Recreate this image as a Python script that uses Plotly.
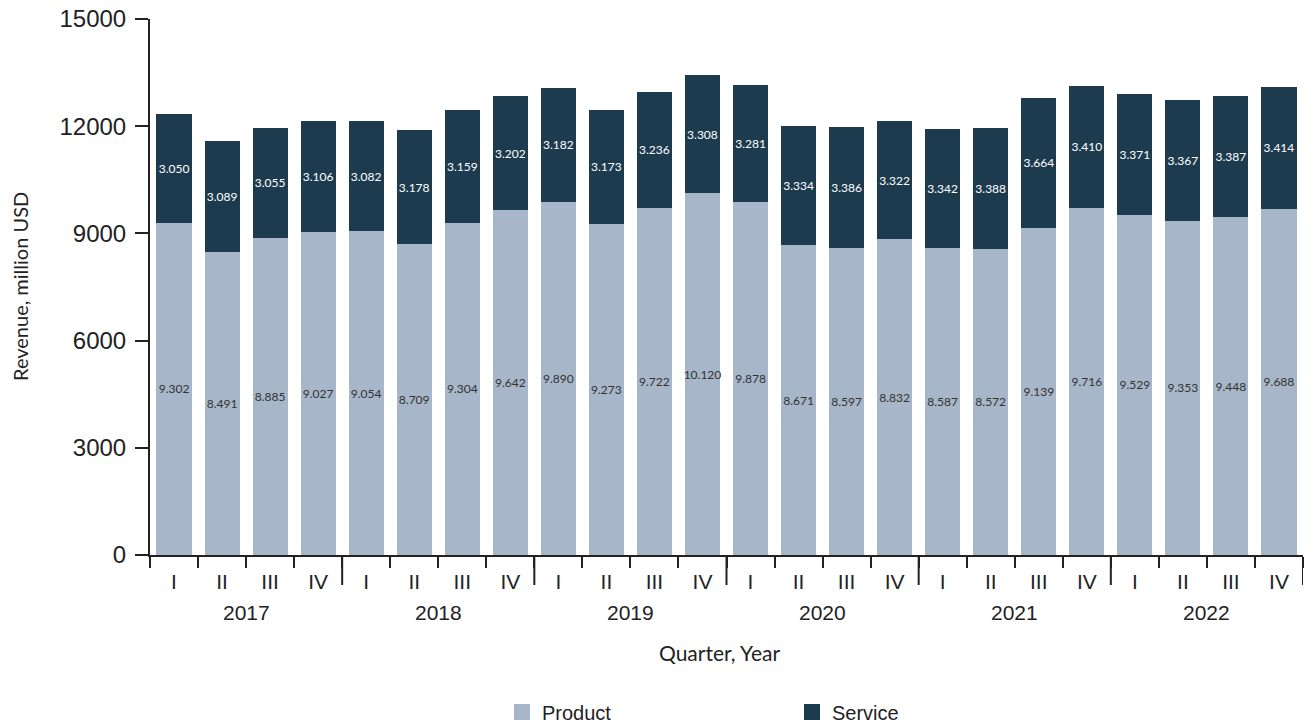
import plotly.graph_objects as go

years = ["2017", "2018", "2019", "2020", "2021", "2022"]
quarter_names = ["I", "II", "III", "IV"]
product = [9302, 8491, 8885, 9027, 9054, 8709, 9304, 9642, 9890, 9273, 9722, 10120,
           9878, 8671, 8597, 8832, 8587, 8572, 9139, 9716, 9529, 9353, 9448, 9688]
service = [3050, 3089, 3055, 3106, 3082, 3178, 3159, 3202, 3182, 3173, 3236, 3308,
           3281, 3334, 3386, 3322, 3342, 3388, 3664, 3410, 3371, 3367, 3387, 3414]
y_ticks = [0, 3000, 6000, 9000, 12000, 15000]

PRODUCT_COLOR = "#a7b6c8"
SERVICE_COLOR = "#1d3b4f"
AXIS_COLOR = "#222222"
TITLE_FONT = "Lato, Noto Sans, sans-serif"

n = len(product)
xs = list(range(n))
quarter_labels = [quarter_names[i % 4] for i in xs]

PLOT_H = 725 - 19 - 170  # plot area height in px


def fmt(v):
    return f"{v:,}".replace(",", ".")


def py(px_below):
    return -px_below / PLOT_H


fig = go.Figure()
fig.add_trace(go.Bar(
    x=xs, y=product, name="Product", showlegend=False,
    marker=dict(color=PRODUCT_COLOR, line=dict(width=0)),
    text=[fmt(v) for v in product], textposition="inside", insidetextanchor="middle",
    textfont=dict(family="Lato", size=12, color="#333333"), textangle=0,
))
fig.add_trace(go.Bar(
    x=xs, y=service, name="Service", showlegend=False,
    marker=dict(color=SERVICE_COLOR, line=dict(width=0)),
    text=[fmt(v) for v in service], textposition="inside", insidetextanchor="middle",
    textfont=dict(family="Lato", size=12, color="#ffffff"), textangle=0,
))
# legend proxies (bigger square swatches)
for name, col in [("Product", PRODUCT_COLOR), ("Service", SERVICE_COLOR)]:
    fig.add_trace(go.Scatter(
        x=[None], y=[None], mode="markers", name=name,
        marker=dict(symbol="square", size=20, color=col),
    ))

shapes = []
for k in range(1, len(years) + 1):
    xb = 4 * k - 0.5
    shapes.append(dict(type="line", xref="x", yref="paper", x0=xb, x1=xb,
                       y0=0, y1=py(30), line=dict(color=AXIS_COLOR, width=2)))

annotations = []
for k, yr in enumerate(years):
    annotations.append(dict(text=yr, xref="x", yref="paper", x=4 * k + 1.5, y=py(57),
                            showarrow=False, xanchor="center", yanchor="middle",
                            font=dict(size=21, color=AXIS_COLOR)))
annotations.append(dict(text="Quarter, Year", xref="paper", yref="paper", x=0.494, y=py(97),
                        showarrow=False, xanchor="center", yanchor="middle",
                        font=dict(family=TITLE_FONT, size=21, color=AXIS_COLOR)))
annotations.append(dict(text="Revenue, million USD", xref="paper", yref="paper",
                        x=-130 / 1153, y=0.5, textangle=-90,
                        showarrow=False, xanchor="center", yanchor="middle",
                        font=dict(family=TITLE_FONT, size=20, color=AXIS_COLOR)))

fig.update_layout(
    barmode="stack", bargap=0.27,
    width=1313, height=725,
    margin=dict(l=150, r=10, t=19, b=170, autoexpand=False),
    plot_bgcolor="white", paper_bgcolor="white",
    font=dict(family="Liberation Sans, Arial", color=AXIS_COLOR, size=20),
    uniformtext=dict(mode="show", minsize=12),
    legend=dict(orientation="h", x=352 / 1153, xanchor="left",
                yref="container", y=0.018, yanchor="middle",
                entrywidth=245, entrywidthmode="pixels",
                font=dict(size=20, color=AXIS_COLOR), traceorder="normal",
                itemsizing="trace"),
    shapes=shapes, annotations=annotations,
)
fig.update_yaxes(
    range=[0, 15000], tickvals=y_ticks, tickformat="d", automargin=False,
    showgrid=False, zeroline=False,
    showline=True, linecolor=AXIS_COLOR, linewidth=2,
    ticks="outside", ticklen=13, tickwidth=2, tickcolor=AXIS_COLOR,
    tickfont=dict(size=24), ticklabelstandoff=4,
)
fig.update_xaxes(
    range=[-0.5, n - 0.5], automargin=False,
    tickvals=xs, ticktext=quarter_labels,
    showgrid=False, zeroline=False,
    showline=True, linecolor=AXIS_COLOR, linewidth=2,
    ticks="outside", ticklen=7, tickwidth=1, tickcolor="rgba(0,0,0,0)",
    tickfont=dict(size=21),
    minor=dict(tickvals=[i - 0.5 for i in range(n + 1)], ticks="outside",
               ticklen=11, tickwidth=2, tickcolor=AXIS_COLOR, showgrid=False),
)

fig.write_html("out.html")
